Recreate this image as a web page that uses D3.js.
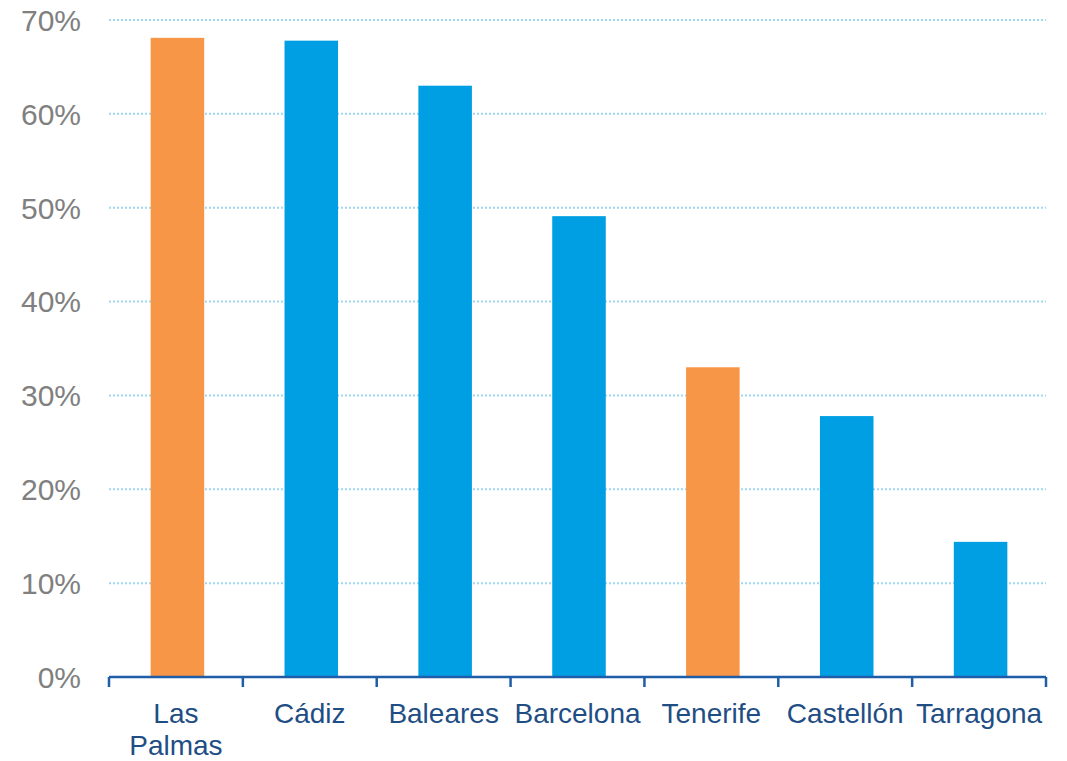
<!DOCTYPE html>
<html>
<head>
<meta charset="utf-8">
<script src="https://cdn.jsdelivr.net/npm/d3@7"></script>
<style>
  html, body { margin: 0; padding: 0; background: #fff; }
  svg { display: block; }
</style>
</head>
<body>
<svg id="chart" width="1067" height="761"></svg>
<script>
const categories = ["Las Palmas", "Cádiz", "Baleares", "Barcelona", "Tenerife", "Castellón", "Tarragona"];
const values = [0.681, 0.678, 0.630, 0.491, 0.330, 0.278, 0.144];
const highlighted = ["Las Palmas", "Tenerife"];
const yTicks = [0, 0.1, 0.2, 0.3, 0.4, 0.5, 0.6, 0.7];

const svg = d3.select("#chart");
const margin = { left: 109, right: 21, top: 20, bottom: 84 };
const W = 1067, H = 761;

const x = d3.scaleBand()
  .domain(categories)
  .range([margin.left, W - margin.right])
  .paddingInner(0.6)
  .paddingOuter(0.3);

const y = d3.scaleLinear()
  .domain([0, 0.7])
  .range([H - margin.bottom, margin.top]);

// gridlines
svg.append("g")
  .selectAll("line")
  .data(yTicks.filter(d => d > 0))
  .join("line")
  .attr("x1", margin.left)
  .attr("x2", W - margin.right)
  .attr("y1", d => y(d))
  .attr("y2", d => y(d))
  .attr("stroke", "#9ED8F2")
  .attr("stroke-width", 2)
  .attr("stroke-dasharray", "2,2");

// y labels
svg.append("g")
  .selectAll("text")
  .data(yTicks)
  .join("text")
  .attr("x", 81)
  .attr("y", d => y(d))
  .attr("dy", "0.36em")
  .attr("text-anchor", "end")
  .attr("font-family", "Liberation Sans, Arial, sans-serif")
  .attr("font-size", 30)
  .attr("fill", "#808080")
  .text(d => d3.format(".0%")(d));

// bars
svg.append("g")
  .selectAll("rect")
  .data(categories)
  .join("rect")
  .attr("x", d => x(d) + 1.5)
  .attr("width", x.bandwidth())
  .attr("y", (d, i) => y(values[i]))
  .attr("height", (d, i) => y(0) - y(values[i]))
  .attr("fill", d => highlighted.includes(d) ? "#F79646" : "#009FE3");

// x axis
const axisG = svg.append("g");
axisG.append("line")
  .attr("x1", margin.left)
  .attr("x2", W - margin.right)
  .attr("y1", y(0))
  .attr("y2", y(0))
  .attr("stroke", "#1F5DA8")
  .attr("stroke-width", 2.5);

const step = x.step();
const boundaries = d3.range(categories.length + 1).map(i => margin.left + i * step);
axisG.selectAll("line.tick")
  .data(boundaries)
  .join("line")
  .attr("class", "tick")
  .attr("x1", d => d)
  .attr("x2", d => d)
  .attr("y1", y(0))
  .attr("y2", y(0) + 10)
  .attr("stroke", "#1F5DA8")
  .attr("stroke-width", 2.5);

// x labels
const labels = svg.append("g")
  .selectAll("text")
  .data(categories)
  .join("text")
  .attr("x", d => x(d) + x.bandwidth() / 2)
  .attr("y", 723)
  .attr("text-anchor", "middle")
  .attr("font-family", "Liberation Sans, Arial, sans-serif")
  .attr("font-size", 28)
  .attr("fill", "#1F4E85")
  .text(d => d);

labels.each(function(d) {
  const t = d3.select(this);
  if (this.getComputedTextLength() > step) {
    const words = d.split(" ");
    const cx = +t.attr("x");
    t.text(null);
    words.forEach((w, i) => {
      t.append("tspan").attr("x", cx).attr("dy", i === 0 ? 0 : 32).text(w);
    });
  }
});
</script>
</body>
</html>
